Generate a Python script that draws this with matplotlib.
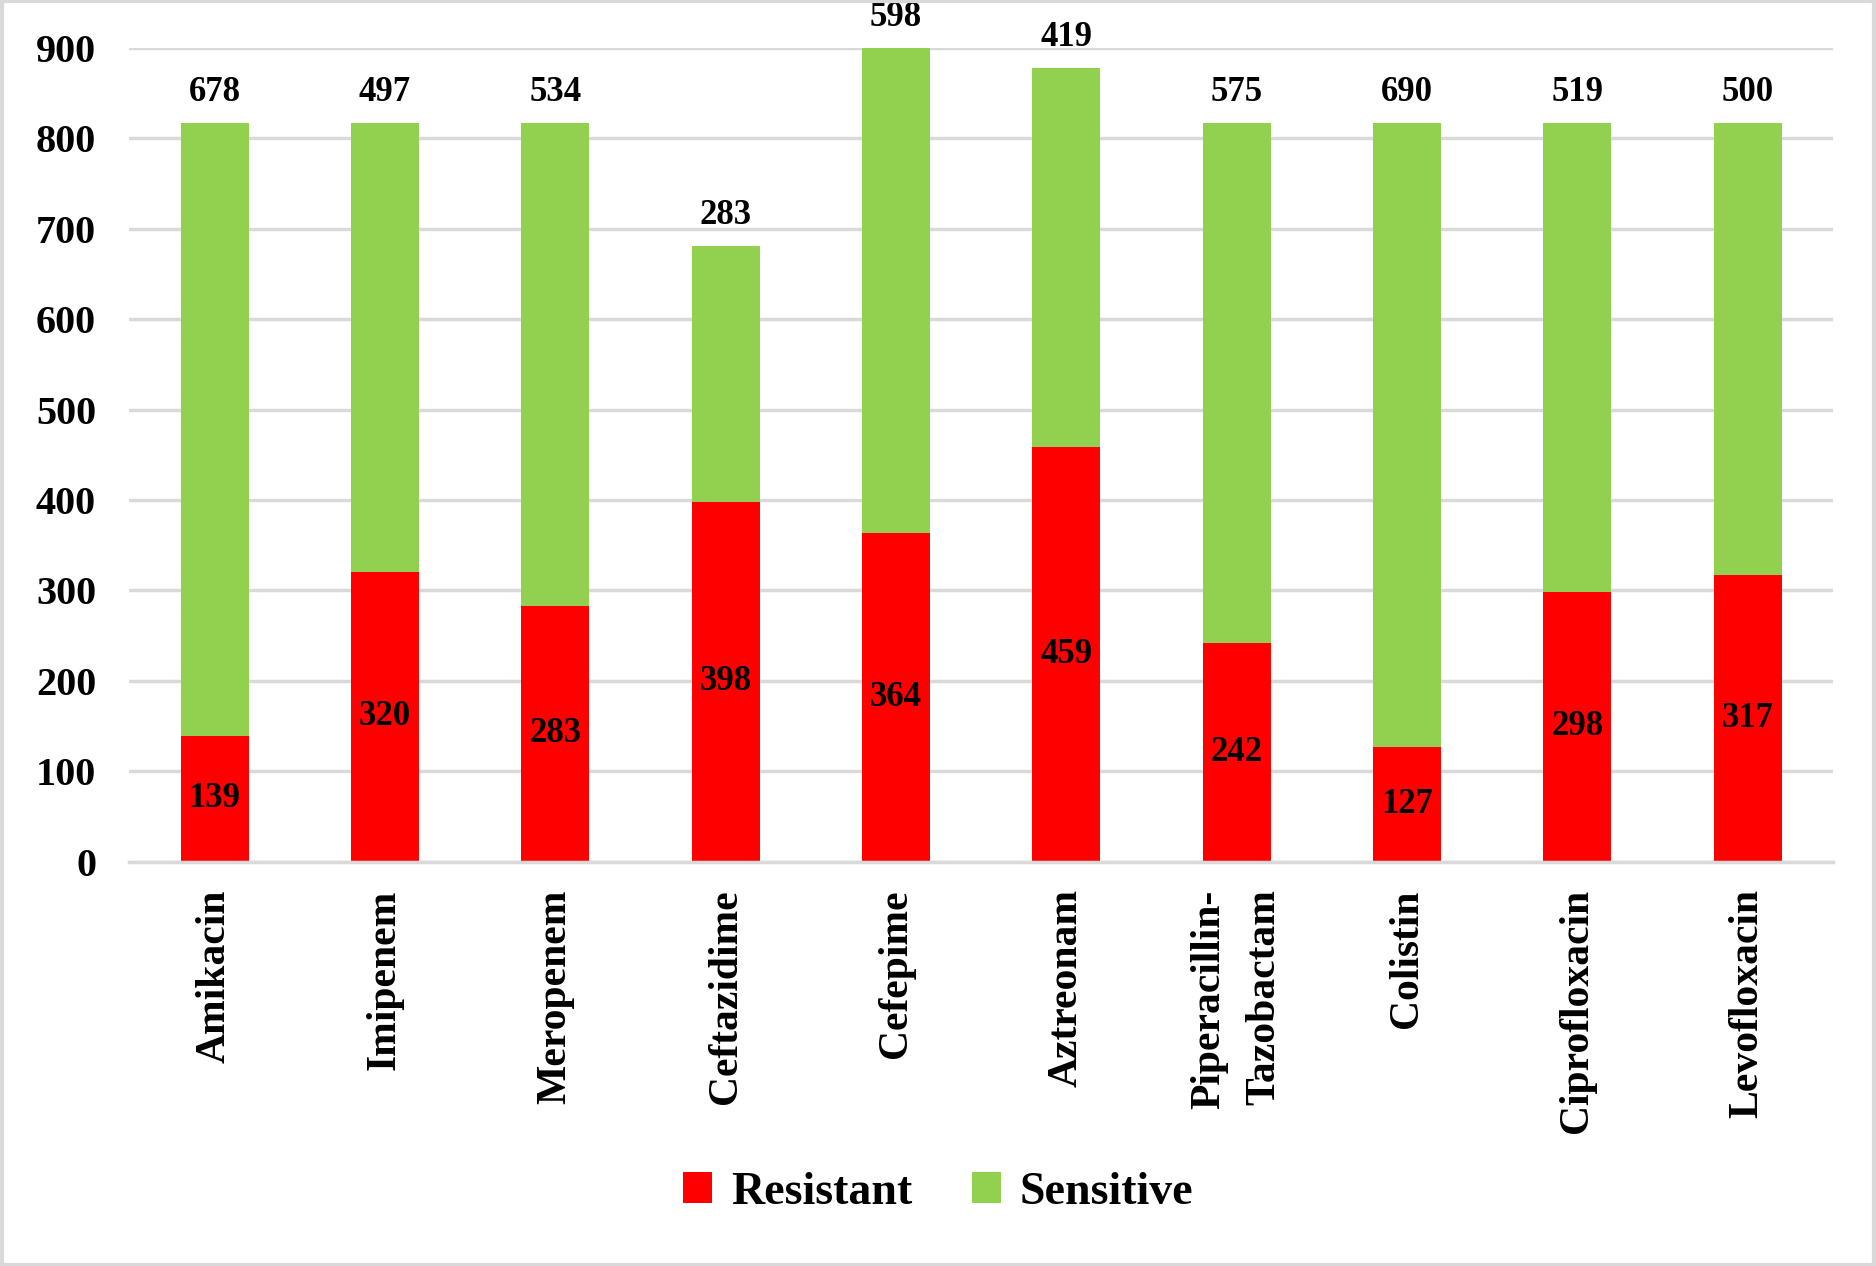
import matplotlib.pyplot as plt
from matplotlib.patches import Rectangle
import numpy as np

plt.rcParams['font.family'] = ['Liberation Serif', 'DejaVu Serif']
plt.rcParams['font.weight'] = 'bold'

antibioticos = ["Amikacin", "Imipenem", "Meropenem", "Ceftazidime", "Cefepime",
                "Aztreonam", "Piperacillin-\nTazobactam", "Colistin",
                "Ciprofloxacin", "Levofloxacin"]
resistente = [139, 320, 283, 398, 364, 459, 242, 127, 298, 317]
sensible = [678, 497, 534, 283, 598, 419, 575, 690, 519, 500]
ticks_y = [0, 100, 200, 300, 400, 500, 600, 700, 800, 900]

rojo = "#FF0000"
verde = "#92D050"
gris = "#D9D9D9"

fig = plt.figure(figsize=(18.76, 12.66), dpi=100)
ax = fig.add_axes([0.069, 0.3195, 0.908, 0.6425])

x = np.arange(len(antibioticos))
b1 = ax.bar(x, resistente, width=0.4, color=rojo, label="Resistant", zorder=2)
b2 = ax.bar(x, sensible, width=0.4, bottom=resistente, color=verde, label="Sensitive", zorder=2)

ax.set_ylim(0, 900)
ax.set_xlim(-0.5, len(antibioticos) - 0.5)
ax.set_yticks(ticks_y)
ax.yaxis.grid(True, color=gris, linewidth=2.5, zorder=0)
ax.set_axisbelow(True)
for s in ["top", "right", "left"]:
    ax.spines[s].set_visible(False)
ax.spines["bottom"].set_color(gris)
ax.spines["bottom"].set_linewidth(2.5)
ax.tick_params(axis="both", length=0)
ax.tick_params(axis="y", labelsize=29, pad=24)
ax.set_xticks(x)
ax.set_xticklabels(antibioticos, rotation=90, fontsize=30, va="top", ha="center",
                   multialignment="right", linespacing=1.6)
ax.tick_params(axis="x", pad=20)

# etiquetas: resistentes en el centro, sensibles arriba
ax.bar_label(b1, labels=[str(v) for v in resistente], label_type="center",
             fontsize=25, fontweight="bold")
for xi, r, s in zip(x, resistente, sensible):
    tope = min(r + s, 900)
    ax.annotate(str(s), (xi, tope), xytext=(0, 10), textcoords="offset points",
                ha="center", va="bottom", fontsize=25, fontweight="bold",
                annotation_clip=False)

leg = ax.legend(loc="center", bbox_to_anchor=(0.5, 0.058), bbox_transform=fig.transFigure,
                ncol=2, frameon=False, fontsize=33, handlelength=0.65, handleheight=0.65,
                handletextpad=0.4, columnspacing=1.3)

fig.patches.append(Rectangle((0.001, 0.001), 0.998, 0.998, transform=fig.transFigure,
                             fill=False, edgecolor=gris, linewidth=3))

fig.savefig("out.png", dpi=100)
